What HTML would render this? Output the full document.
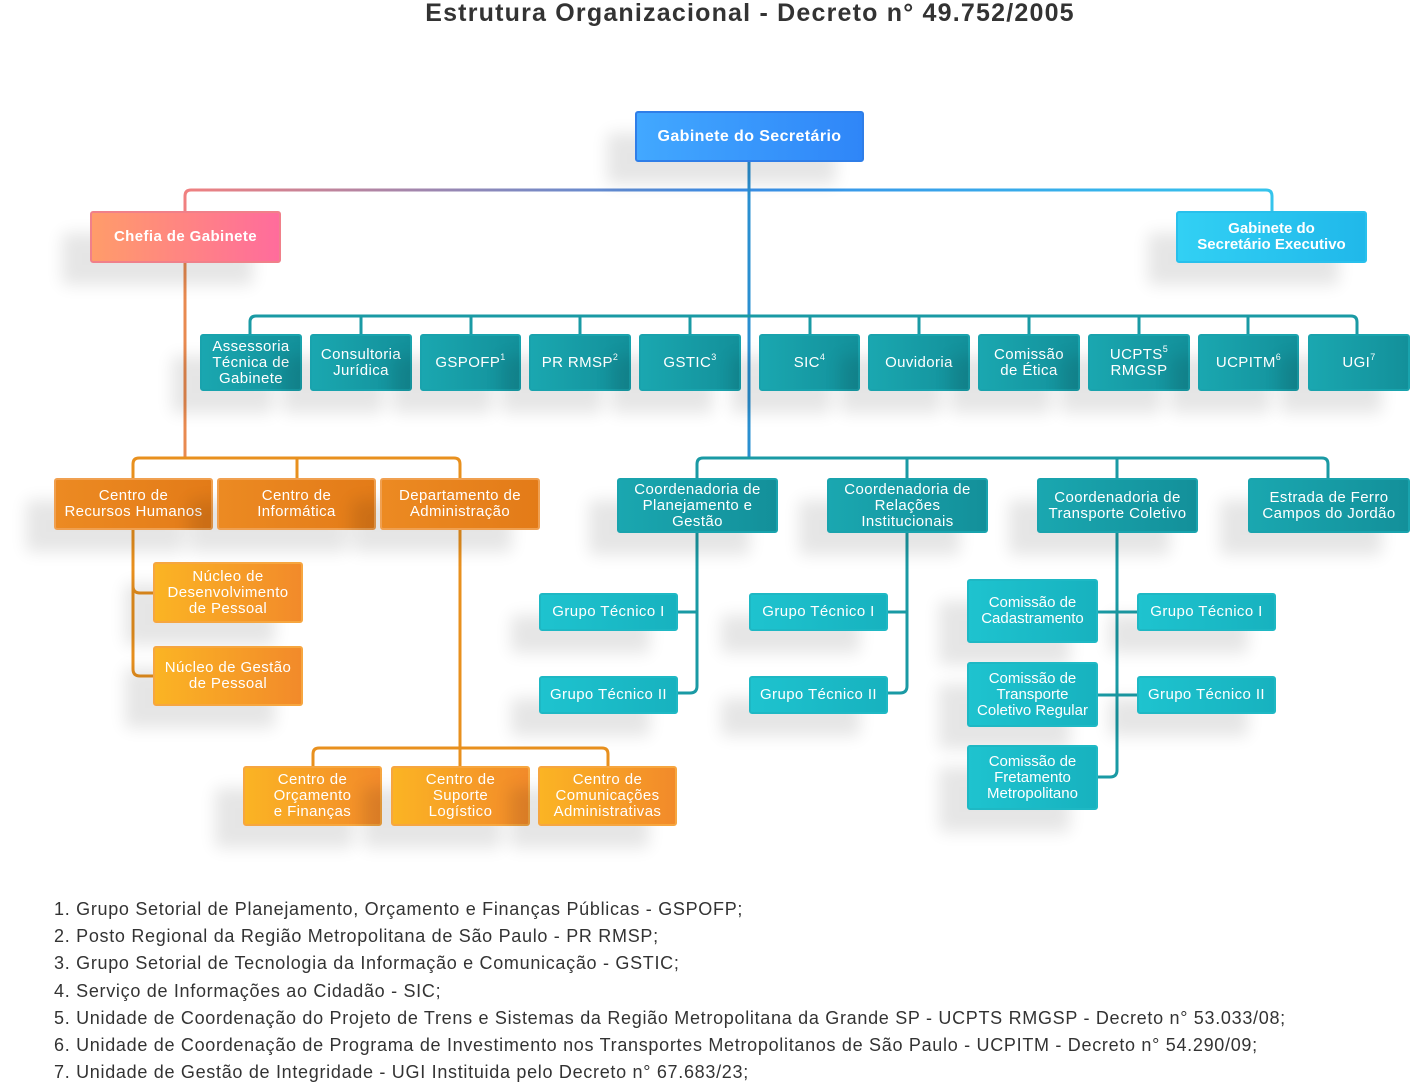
<!DOCTYPE html>
<html><head><meta charset="utf-8"><style>
*{margin:0;padding:0;box-sizing:border-box}
body{width:1410px;height:1080px;background:#fff;position:relative;overflow:hidden;font-family:"Liberation Sans",sans-serif}
.b{position:absolute;display:flex;align-items:center;justify-content:center;text-align:center;color:#fff;font-size:15px;line-height:16px;letter-spacing:0.4px;border-radius:3px;box-shadow:-28px 22px 16px rgba(0,0,0,0.10)}
.t{background:linear-gradient(90deg,#1aa7b0,#13909a);border:2px solid #19a3ad}
.g{background:linear-gradient(90deg,#1ec3cf,#17b2bf);border:2px solid #1eb8c4}
.o{background:linear-gradient(90deg,#ec8a22,#e37b18);border:2px solid #f0a050}
.y{background:linear-gradient(90deg,#fbb424,#f28a2a);border:2px solid #f6a640}
sup{font-size:9px;vertical-align:7px;line-height:0}
.title{position:absolute;top:0;left:0;width:1500px;text-align:center;font-size:25px;font-weight:bold;color:#333;line-height:26px;letter-spacing:1.2px}
.fn{position:absolute;left:54px;top:896px;font-size:18px;color:#333;line-height:27.2px;letter-spacing:0.7px;white-space:nowrap}
</style></head><body>
<div class="title">Estrutura Organizacional - Decreto n° 49.752/2005</div>
<svg width="1410" height="1080" style="position:absolute;left:0;top:0" fill="none" stroke-width="3">
<defs><linearGradient id="lg" x1="185" x2="1272" gradientUnits="userSpaceOnUse"><stop offset="0" stop-color="#f08080"/><stop offset="0.5" stop-color="#3a8ee8"/><stop offset="1" stop-color="#35c4ec"/></linearGradient></defs>
<path d="M185 211V196q0-6 6-6H1266q6 0 6 6v15" stroke="url(#lg)"/>
<path d="M749 162V458" stroke="#2a8fd0"/>
<g stroke="#1a9aa4">
<path d="M250 334V322q0-6 6-6H1351q6 0 6 6v12"/>
<path d="M361 334V316M471 334V316M580 334V316M690 334V316M810 334V316M919 334V316M1029 334V316M1139 334V316M1248 334V316"/>
<path d="M697 478V464q0-6 6-6H1322q6 0 6 6v14M907 478V458M1117 478V458"/>
<path d="M697 533V686q0 7-7 7H678M697 612H678"/>
<path d="M907 533V686q0 7-7 7H888M907 612H888"/>
<path d="M1117 533V770q0 7-7 7H1098M1098 612H1137M1098 695H1137"/>
</g>
<path d="M185 263V458" stroke="#e88a50"/>
<g stroke="#e8901e">
<path d="M133 478V464q0-6 6-6H454q6 0 6 6v14M297 478V458"/>
<path d="M133 530V669q0 7 7 7h13M133 586q0 7 7 7h13"/>
<path d="M460 530V748M313 766V754q0-6 6-6H602q6 0 6 6v12M460 766V748"/>
</g>
</svg>
<div class="b" style="left:635px;top:111px;width:229px;height:51px;background:linear-gradient(90deg,#42a8ff,#2f86f8);border:2px solid #2f7ee8;font-size:16px;font-weight:bold"><span>Gabinete do Secretário</span></div>
<div class="b" style="left:90px;top:211px;width:191px;height:52px;background:linear-gradient(90deg,#ff9c6a,#ff6c9c);border:2px solid #f0808a;font-size:15px;font-weight:bold"><span>Chefia de Gabinete</span></div>
<div class="b" style="left:1176px;top:211px;width:191px;height:52px;background:linear-gradient(90deg,#32d0f4,#20b8ea);border:2px solid #28c0ec;font-weight:bold;letter-spacing:0"><span>Gabinete do<br>Secretário Executivo</span></div>

<div class="b t" style="left:200px;top:334px;width:102px;height:57px"><span>Assessoria<br>Técnica de<br>Gabinete</span></div>
<div class="b t" style="left:310px;top:334px;width:102px;height:57px"><span>Consultoria<br>Jurídica</span></div>
<div class="b t" style="left:420px;top:334px;width:101px;height:57px"><span>GSPOFP<sup>1</sup></span></div>
<div class="b t" style="left:529px;top:334px;width:102px;height:57px"><span>PR RMSP<sup>2</sup></span></div>
<div class="b t" style="left:639px;top:334px;width:102px;height:57px"><span>GSTIC<sup>3</sup></span></div>
<div class="b t" style="left:759px;top:334px;width:101px;height:57px"><span>SIC<sup>4</sup></span></div>
<div class="b t" style="left:868px;top:334px;width:102px;height:57px"><span>Ouvidoria</span></div>
<div class="b t" style="left:978px;top:334px;width:102px;height:57px"><span>Comissão<br>de Ética</span></div>
<div class="b t" style="left:1088px;top:334px;width:102px;height:57px"><span>UCPTS<sup>5</sup><br>RMGSP</span></div>
<div class="b t" style="left:1198px;top:334px;width:101px;height:57px"><span>UCPITM<sup>6</sup></span></div>
<div class="b t" style="left:1308px;top:334px;width:102px;height:57px"><span>UGI<sup>7</sup></span></div>

<div class="b o" style="left:54px;top:478px;width:159px;height:52px"><span>Centro de<br>Recursos Humanos</span></div>
<div class="b o" style="left:217px;top:478px;width:159px;height:52px"><span>Centro de<br>Informática</span></div>
<div class="b o" style="left:380px;top:478px;width:160px;height:52px"><span>Departamento de<br>Administração</span></div>
<div class="b y" style="left:153px;top:562px;width:150px;height:61px"><span>Núcleo de<br>Desenvolvimento<br>de Pessoal</span></div>
<div class="b y" style="left:153px;top:646px;width:150px;height:60px"><span>Núcleo de Gestão<br>de Pessoal</span></div>
<div class="b y" style="left:243px;top:766px;width:139px;height:60px"><span>Centro de<br>Orçamento<br>e Finanças</span></div>
<div class="b y" style="left:391px;top:766px;width:139px;height:60px"><span>Centro de<br>Suporte<br>Logístico</span></div>
<div class="b y" style="left:538px;top:766px;width:139px;height:60px"><span>Centro de<br>Comunicações<br>Administrativas</span></div>

<div class="b t" style="left:617px;top:478px;width:161px;height:55px"><span>Coordenadoria de<br>Planejamento e<br>Gestão</span></div>
<div class="b t" style="left:827px;top:478px;width:161px;height:55px"><span>Coordenadoria de<br>Relações<br>Institucionais</span></div>
<div class="b t" style="left:1037px;top:478px;width:161px;height:55px"><span>Coordenadoria de<br>Transporte Coletivo</span></div>
<div class="b t" style="left:1248px;top:478px;width:162px;height:55px"><span>Estrada de Ferro<br>Campos do Jordão</span></div>

<div class="b g" style="left:539px;top:593px;width:139px;height:38px"><span>Grupo Técnico I</span></div>
<div class="b g" style="left:539px;top:676px;width:139px;height:38px"><span>Grupo Técnico II</span></div>
<div class="b g" style="left:749px;top:593px;width:139px;height:38px"><span>Grupo Técnico I</span></div>
<div class="b g" style="left:749px;top:676px;width:139px;height:38px"><span>Grupo Técnico II</span></div>
<div class="b g" style="left:967px;top:579px;width:131px;height:64px;letter-spacing:0"><span>Comissão de<br>Cadastramento</span></div>
<div class="b g" style="left:967px;top:662px;width:131px;height:65px;letter-spacing:0"><span>Comissão de<br>Transporte<br>Coletivo Regular</span></div>
<div class="b g" style="left:967px;top:745px;width:131px;height:65px;letter-spacing:0"><span>Comissão de<br>Fretamento<br>Metropolitano</span></div>
<div class="b g" style="left:1137px;top:593px;width:139px;height:38px"><span>Grupo Técnico I</span></div>
<div class="b g" style="left:1137px;top:676px;width:139px;height:38px"><span>Grupo Técnico II</span></div>

<div class="fn">1. Grupo Setorial de Planejamento, Orçamento e Finanças Públicas - GSPOFP;<br>2. Posto Regional da Região Metropolitana de São Paulo - PR RMSP;<br>3. Grupo Setorial de Tecnologia da Informação e Comunicação - GSTIC;<br>4. Serviço de Informações ao Cidadão - SIC;<br>5. Unidade de Coordenação do Projeto de Trens e Sistemas da Região Metropolitana da Grande SP - UCPTS RMGSP - Decreto n° 53.033/08;<br>6. Unidade de Coordenação de Programa de Investimento nos Transportes Metropolitanos de São Paulo - UCPITM - Decreto n° 54.290/09;<br>7. Unidade de Gestão de Integridade - UGI Instituida pelo Decreto n° 67.683/23;</div>
</body></html>
